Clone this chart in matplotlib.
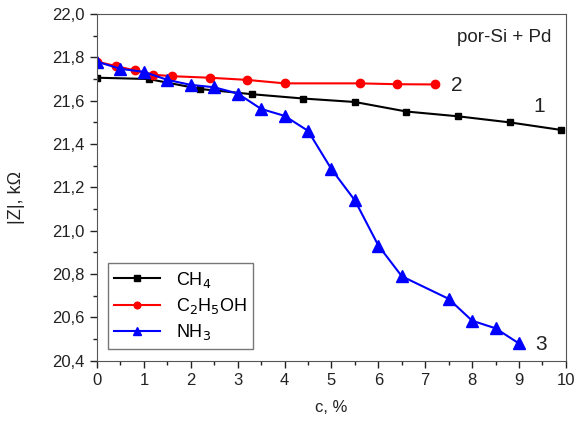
import matplotlib
matplotlib.use("Agg")
from matplotlib import pyplot as plt
from matplotlib.ticker import MultipleLocator, FuncFormatter

plt.rcParams['font.family'] = ['Liberation Sans', 'DejaVu Sans']

# CH4 (curve 1)
ch4_x = [0, 1.1, 2.2, 3.3, 4.4, 5.5, 6.6, 7.7, 8.8, 9.9]
ch4_y = [21.706, 21.70, 21.654, 21.63, 21.61, 21.594, 21.55, 21.528, 21.50, 21.465]

# C2H5OH (curve 2)
eth_x = [0, 0.4, 0.8, 1.2, 1.6, 2.4, 3.2, 4.0, 5.6, 6.4, 7.2]
eth_y = [21.78, 21.76, 21.74, 21.72, 21.713, 21.706, 21.696, 21.68, 21.68, 21.676, 21.675]

# NH3 (curve 3)
nh3_x = [0, 0.5, 1.0, 1.5, 2.0, 2.5, 3.0, 3.5, 4.0, 4.5, 5.0, 5.5, 6.0, 6.5, 7.5, 8.0, 8.5, 9.0]
nh3_y = [21.78, 21.747, 21.733, 21.696, 21.673, 21.662, 21.633, 21.562, 21.53, 21.461, 21.284,
         21.14, 20.932, 20.79, 20.686, 20.585, 20.55, 20.48]

fig = plt.figure(figsize=(5.81, 4.24), dpi=100)
ax = fig.add_axes([0.167, 0.149, 0.807, 0.818])

ax.plot(ch4_x, ch4_y, color='black', marker='s', markersize=5, lw=1.5, label='CH$_4$')
ax.plot(eth_x, eth_y, color='red', marker='o', markersize=6, lw=1.5, label='C$_2$H$_5$OH')
ax.plot(nh3_x, nh3_y, color='blue', marker='^', markersize=8, lw=1.5, label='NH$_3$')

ax.set_xlim(0, 10)
ax.set_ylim(20.4, 22.0)
ax.xaxis.set_major_locator(MultipleLocator(1))
ax.xaxis.set_minor_locator(MultipleLocator(0.5))
ax.yaxis.set_major_locator(MultipleLocator(0.2))
ax.yaxis.set_minor_locator(MultipleLocator(0.1))
ax.yaxis.set_major_formatter(FuncFormatter(lambda v, p: f"{v:.1f}".replace('.', ',')))
ax.tick_params(which='major', direction='out', length=5, width=1, labelsize=12, colors='#222222', pad=4)
ax.tick_params(which='minor', direction='out', length=3, width=1, colors='#222222')
for s in ax.spines.values():
    s.set_color('#555555')

ax.set_xlabel('c, %', fontsize=12, color='#222222')
ax.set_ylabel('|Z|, k\u03a9', fontsize=13, color='#222222')
ax.xaxis.set_label_coords(0.5, -0.112)
ax.yaxis.set_label_coords(-0.153, 0.47)

ax.text(9.42, 21.574, '1', fontsize=15, color='#222222', ha='center', va='center')
ax.text(7.67, 21.67, '2', fontsize=15, color='#222222', ha='center', va='center')
ax.text(9.47, 20.476, '3', fontsize=15, color='#222222', ha='center', va='center')
ax.text(9.70, 21.89, 'por-Si + Pd', fontsize=13.5, color='#222222', ha='right', va='center')

leg = ax.legend(loc='lower left', bbox_to_anchor=(0.0235, 0.035), borderaxespad=0, fontsize=13,
                fancybox=False, edgecolor='#555555', handlelength=2.5, handletextpad=0.9,
                labelspacing=0.35, borderpad=0.35, markerscale=0.8)
leg.get_frame().set_linewidth(1)

fig.savefig('out.png', dpi=100)
